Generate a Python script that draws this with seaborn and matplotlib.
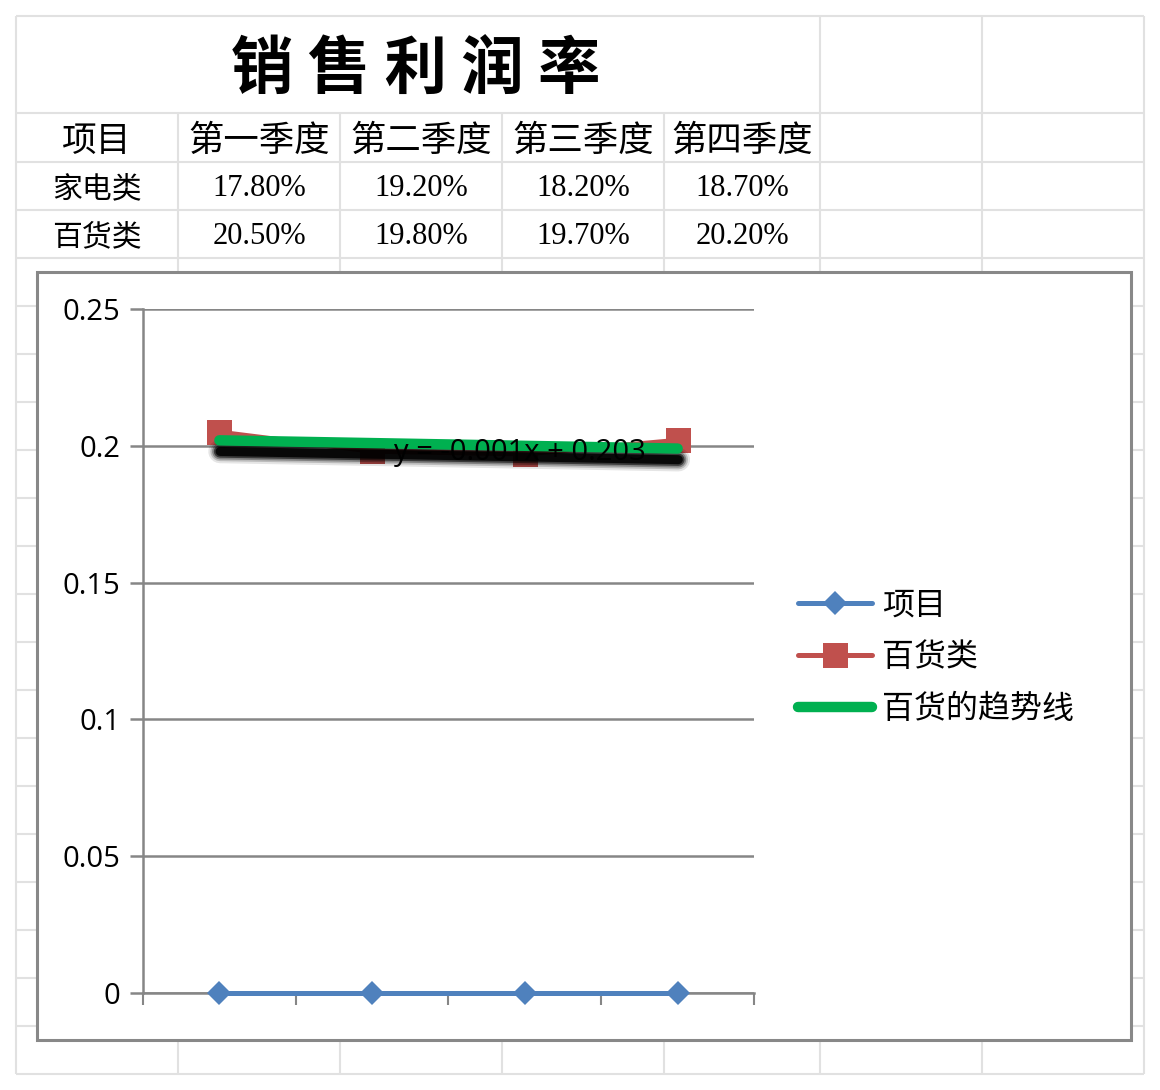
import numpy as np
import matplotlib
matplotlib.use("Agg")
import matplotlib.pyplot as plt
import matplotlib.patheffects as pe
from matplotlib.patches import Rectangle
import seaborn as sns

# sheet contents
title = "销 售 利 润 率"
row_header = "项目"
quarters = ["第一季度", "第二季度", "第三季度", "第四季度"]
row_names = ["家电类", "百货类"]
appliance_pct = [17.80, 19.20, 18.20, 18.70]
department_pct = [20.50, 19.80, 19.70, 20.20]

# chart series: "项目" row is read as zeros by the spreadsheet
item_values = [0, 0, 0, 0]
y_ticks = [0, 0.05, 0.1, 0.15, 0.2, 0.25]
legend_names = ["项目", "百货类", "百货的趋势线"]

sns.set_style("white")
plt.rcParams["font.family"] = ["Open Sans", "DejaVu Sans"]
plt.rcParams["text.color"] = "black"
plt.rcParams["ytick.labelcolor"] = "black"
CJK = ["Noto Sans CJK SC", "DejaVu Sans"]

W, H = 1160, 1090
fig = plt.figure(figsize=(W / 100, H / 100), dpi=100)

# spreadsheet background
sheet = fig.add_axes([0, 0, 1, 1])
sheet.set_xlim(0, W)
sheet.set_ylim(H, 0)
sheet.axis("off")

grid_c = "#e1e1e1"
col_x = [16, 178, 340, 502, 664, 820, 982, 1144]
row_y = [16, 113] + list(range(162, 1075, 48))
for x in col_x:
    top = 16 if x in (16, 820, 982, 1144) else 113
    sheet.vlines(x, top, 1074, color=grid_c, lw=1.5)
sheet.hlines(row_y, 16, 1144, color=grid_c, lw=1.5)

sheet.text(416, 69, title, family=CJK, fontsize=45, fontweight="bold",
           ha="center", va="center", color="black")

centers = [(col_x[i] + col_x[i + 1]) / 2 for i in range(5)]
sheet.text(centers[0], 141, row_header, family=CJK, fontsize=25,
           ha="center", va="center")
for cx, q in zip(centers[1:], quarters):
    sheet.text(cx, 141, q, family=CJK, fontsize=25.5, ha="center", va="center")

for ry, name, vals in zip([189, 237], row_names, [appliance_pct, department_pct]):
    sheet.text(centers[0], ry, name, family=CJK, fontsize=21.5,
               ha="center", va="center")
    for cx, v in zip(centers[1:], vals):
        sheet.text(cx, ry, f"{v:.2f}%", family=["Liberation Serif"],
                   fontsize=22, ha="center", va="center")

# chart frame
sheet.add_patch(Rectangle((37, 272), 1094, 768, facecolor="white",
                          edgecolor="#888888", lw=2.2, zorder=3))

# chart
ax = fig.add_axes([143 / W, 1 - 993 / H, (754 - 143) / W, (993 - 309) / H])
ax.patch.set_alpha(0)

dept = np.array(department_pct) / 100
coef = np.polyfit(np.arange(1, 5), dept, 1)
trend = np.polyval(coef, np.arange(1, 5))

sns.lineplot(x=quarters, y=item_values, sort=False, ax=ax, color="#4f81bd",
             lw=3.6, marker="D", markersize=12.5, markeredgewidth=0,
             label=legend_names[0], clip_on=False, zorder=4)
sns.lineplot(x=quarters, y=dept, sort=False, ax=ax, color="#c0504d",
             lw=3.6, marker="s", markersize=18, markeredgewidth=0,
             label=legend_names[1], clip_on=False, zorder=3)
# soft drop shadow under the trendline
shadow = [
    pe.SimpleLineShadow(offset=(0.5, -8), shadow_color="black", alpha=a, linewidth=w)
    for w, a in [(17, 0.1), (14, 0.18), (11.5, 0.3), (9, 0.55), (6.5, 0.85)]
] + [pe.Normal()]
sns.lineplot(x=quarters, y=trend, sort=False, ax=ax, color="#00b050", lw=7.5,
             solid_capstyle="round", label=legend_names[2], zorder=5,
             path_effects=shadow)

ax.text(1.97, 0.1975, f"y = {coef[0]:.3f}x + {coef[1]:.3f}", fontsize=21,
        color="black", ha="center", va="center", zorder=6)

ax.set_xlim(-0.5, 3.5)
ax.set_ylim(0, 0.25)
ax.set_yticks(y_ticks)
ax.set_yticklabels([f"{v:g}" for v in y_ticks])
ax.set_xticks([-0.5, 0.5, 1.5, 2.5, 3.5])
ax.set_xticklabels([])
ax.set_xlabel("")
ax.set_ylabel("")
ax.grid(axis="y", color="#868686", lw=1.8)
ax.grid(axis="x", visible=False)
ax.set_axisbelow(True)
for s in ["top", "right"]:
    ax.spines[s].set_visible(False)
for s in ["left", "bottom"]:
    ax.spines[s].set_color("#868686")
    ax.spines[s].set_linewidth(1.8)
ax.tick_params(axis="y", left=True, length=9.4, width=1.8, color="#868686",
               pad=7, labelsize=21, labelcolor="black", direction="out")
ax.tick_params(axis="x", bottom=True, length=8.6, width=1.5, color="#868686",
               direction="out")

handles, labels = ax.get_legend_handles_labels()
ax.get_legend().remove()
leg = fig.legend(handles, labels, loc="center left",
                 bbox_to_anchor=(798 / W, 1 - 657 / H), frameon=False,
                 prop={"family": CJK, "size": 23}, handlelength=2.32,
                 handletextpad=0.31, labelspacing=0.62, borderpad=0,
                 borderaxespad=0)
for text in leg.get_texts():
    text.set_color("black")
for line in leg.get_lines():
    line.set_path_effects([])

fig.savefig("out.png", dpi=100)
